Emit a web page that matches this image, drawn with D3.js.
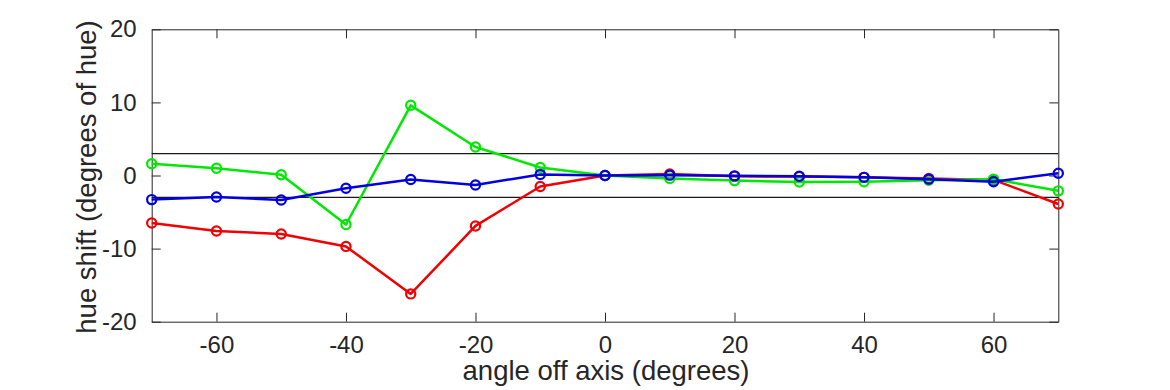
<!DOCTYPE html>
<html>
<head>
<meta charset="utf-8">
<script src="https://cdn.jsdelivr.net/npm/d3@7"></script>
<style>
  html, body { margin: 0; padding: 0; background: #fff; }
  svg { display: block; }
  text { font-family: "Liberation Sans", Arial, Helvetica, sans-serif; fill: #262626; }
</style>
</head>
<body>
<svg id="chart" width="1170" height="390"></svg>
<script>
const angles = [-70, -60, -50, -40, -30, -20, -10, 0, 10, 20, 30, 40, 50, 60, 70];
const redShift   = [-6.5, -7.6, -8.0, -9.7, -16.2, -6.9, -1.5, 0, 0.2, -0.1, -0.15, -0.25, -0.4, -0.6, -3.9];
const greenShift = [1.6, 1.0, 0.1, -6.7, 9.6, 3.9, 1.1, 0, -0.4, -0.7, -0.9, -0.85, -0.65, -0.5, -2.1];
const blueShift  = [-3.3, -2.95, -3.35, -1.75, -0.55, -1.3, 0.15, 0, 0.05, -0.05, -0.1, -0.25, -0.5, -0.85, 0.3];
const thresholds = [3, -3];
const xTicks = [-60, -40, -20, 0, 20, 40, 60];
const yTicks = [-20, -10, 0, 10, 20];
const xLabel = "angle off axis (degrees)";
const yLabel = "hue shift (degrees of hue)";

const series = [
  { name: "red", values: redShift, color: "#f00000" },
  { name: "green", values: greenShift, color: "#00e800" },
  { name: "blue", values: blueShift, color: "#0000e0" }
];

const svg = d3.select("#chart");
const mLeft = 151.7, mRight = 1058.3, mTop = 29.3, mBottom = 321.7;
const x = d3.scaleLinear().domain([-70, 70]).range([mLeft, mRight]);
const y = d3.scaleLinear().domain([-20, 20]).range([mBottom, mTop]);
const tickLen = 9;
const axisColor = "#262626";

function styleAxis(g) {
  g.select(".domain").attr("stroke", axisColor).attr("stroke-width", 1);
  g.selectAll(".tick line").attr("stroke", axisColor).attr("stroke-width", 1);
  g.selectAll("text").attr("font-size", 24).attr("fill", "#262626")
    .style("font-family", '"Liberation Sans", Arial, sans-serif');
}

const xb = svg.append("g").attr("transform", `translate(0,${mBottom})`)
  .call(d3.axisBottom(x).tickValues(xTicks).tickSizeInner(-tickLen).tickSizeOuter(0).tickPadding(14).tickFormat(d3.format("d")));
styleAxis(xb);
const xt = svg.append("g").attr("transform", `translate(0,${mTop})`)
  .call(d3.axisTop(x).tickValues(xTicks).tickSizeInner(-tickLen).tickSizeOuter(0).tickFormat(""));
styleAxis(xt);
const yl = svg.append("g").attr("transform", `translate(${mLeft},0)`)
  .call(d3.axisLeft(y).tickValues(yTicks).tickSizeInner(-tickLen).tickSizeOuter(0).tickPadding(15).tickFormat(d3.format("d")));
styleAxis(yl);
const yr = svg.append("g").attr("transform", `translate(${mRight},0)`)
  .call(d3.axisRight(y).tickValues(yTicks).tickSizeInner(-tickLen).tickSizeOuter(0).tickFormat(""));
styleAxis(yr);
svg.selectAll(".tick text").text(function() { return d3.select(this).text().replace("\u2212", "-"); });

svg.append("g").selectAll("line").data(thresholds).join("line")
  .attr("x1", x(-70)).attr("x2", x(70))
  .attr("y1", d => y(d)).attr("y2", d => y(d))
  .attr("stroke", "#1a1a1a").attr("stroke-width", 1.2);

const line = d3.line().x((d, i) => x(angles[i])).y(d => y(d));

series.forEach(s => {
  const g = svg.append("g");
  g.append("path").datum(s.values)
    .attr("d", line)
    .attr("fill", "none")
    .attr("stroke", s.color)
    .attr("stroke-width", 2.5)
    .attr("stroke-linejoin", "round");
  g.selectAll("circle").data(s.values).join("circle")
    .attr("cx", (d, i) => x(angles[i]))
    .attr("cy", d => y(d))
    .attr("r", 4.6)
    .attr("fill", "none")
    .attr("stroke", s.color)
    .attr("stroke-width", 2.2);
});

svg.append("text")
  .attr("x", 606)
  .attr("y", 380)
  .attr("text-anchor", "middle")
  .attr("font-size", 27.5)
  .text(xLabel);

svg.append("text")
  .attr("transform", `translate(96,177) rotate(-90)`)
  .attr("text-anchor", "middle")
  .attr("font-size", 27.5)
  .text(yLabel);
</script>
</body>
</html>
